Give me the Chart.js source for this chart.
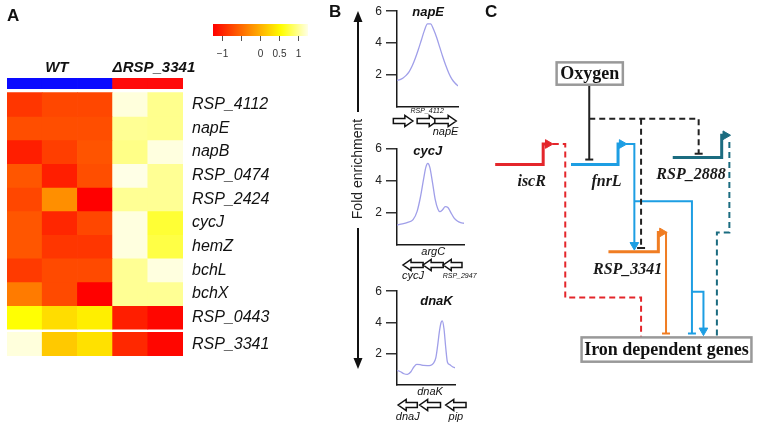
<!DOCTYPE html>
<html>
<head>
<meta charset="utf-8">
<title>Iron-dependent genes: heatmap, ChIP enrichment and network</title>
<script src="https://cdn.jsdelivr.net/npm/chart.js@4.4.1/dist/chart.umd.min.js"></script>
<style>
  html, body { margin: 0; padding: 0; background: #fff; }
  #fig { position: relative; width: 768px; height: 426px; overflow: hidden; }
  #fig canvas { position: absolute; }
</style>
</head>
<body>
<div id="fig">
  <canvas id="heatmap" width="300" height="400" style="left:0px;top:0px"></canvas>
  <canvas id="colorKey" width="120" height="56" style="left:200px;top:10px"></canvas>
  <canvas id="chipNapE" width="160" height="145" style="left:320px;top:0px"></canvas>
  <canvas id="chipCycJ" width="160" height="426" style="left:320px;top:0px"></canvas>
  <canvas id="chipDnaK" width="160" height="146" style="left:320px;top:280px"></canvas>
  <canvas id="network" width="298" height="426" style="left:470px;top:0px"></canvas>
</div>
<script>
// ─── Panel A: row z-scores ──────────────────────────────────────────────────────
const genes = ['RSP_4112', 'napE', 'napB', 'RSP_0474', 'RSP_2424', 'cycJ', 'hemZ', 'bchL', 'bchX', 'RSP_0443', 'RSP_3341'];
const sampleNames = ['WT 1', 'WT 2', 'WT 3', 'ΔRSP_3341 1', 'ΔRSP_3341 2'];
const sampleGroup = ['WT', 'WT', 'WT', 'ΔRSP_3341', 'ΔRSP_3341'];
const groupNames  = ['WT', 'ΔRSP_3341'];
const wt1 = [-0.87, -0.70, -1.04, -0.64, -0.75, -0.64, -0.64, -0.84, -0.38,  0.56,  1.22];
const wt2 = [-0.75, -0.70, -0.81, -1.04, -0.24, -0.98, -0.87, -0.73, -0.73,  0.31,  0.17];
const wt3 = [-0.75, -0.70, -0.66, -0.70, -1.25, -0.75, -0.87, -0.73, -1.24,  0.44,  0.34];
const ko1 = [ 1.22,  1.00,  0.96,  1.25,  1.00,  1.23,  1.23,  1.00,  1.00, -1.04, -0.97];
const ko2 = [ 0.98,  0.98,  1.23,  1.00,  1.00,  0.71,  0.76,  1.23,  1.00, -1.21, -1.21];
const keyTicks      = [-1, -0.5, 0, 0.5, 1];
const keyTickLabels = ['−1', '', '0', '0.5', '1'];

// ─── Panel B: ChIP enrichment profiles (window position 0–100) ──────────────────
const foldTicks = [2, 4, 6];
const napEPos  = [0, 5, 10, 15, 20, 25, 30, 35, 40, 45, 50, 55, 60, 65, 70, 75, 80, 85, 90, 95, 100];
const napEFold = [1.67, 1.72, 1.82, 1.98, 2.22, 2.58, 3.05, 3.6, 4.2, 4.8, 5.2, 5.2, 4.85, 4.35, 3.75, 3.15, 2.6, 2.12, 1.75, 1.5, 1.32];
const cycJPos  = [0, 8, 16, 24, 30, 35, 40, 43, 46, 49, 53, 57, 61, 64, 68, 72, 76, 80, 85, 90, 95, 100];
const cycJFold = [1.25, 1.32, 1.42, 1.58, 2.1, 3.0, 4.2, 4.85, 5.1, 4.85, 3.9, 2.85, 2.25, 2.08, 2.2, 2.4, 2.35, 2.05, 1.7, 1.5, 1.4, 1.36];
const dnaKPos  = [0, 6, 12, 18, 24, 29, 34, 40, 46, 52, 58, 63, 67, 70, 73, 76, 78, 81, 84, 87, 91, 95, 100];
const dnaKFold = [0.94, 0.85, 0.72, 0.68, 0.85, 1.15, 1.32, 1.3, 1.25, 1.24, 1.26, 1.4, 1.75, 2.5, 3.4, 4.0, 4.1, 3.6, 2.4, 1.45, 1.3, 1.18, 1.1];
// genes under each profile: tail -> tip (tip < tail means reverse strand)
const napEGenes = ['', 'RSP_4112', 'napE'];
const napEFrom  = [-6, 33, 62];
const napETo    = [26, 66, 97];
const cycJGenes = ['cycJ', 'argC', 'RSP_2947'];
const cycJFrom  = [39, 69, 97];
const cycJTo    = [9, 39, 69];
const dnaKGenes = ['dnaJ', 'dnaK', 'pip'];
const dnaKFrom  = [35, 75, 119];
const dnaKTo    = [2, 39, 84];

// ─── Panel C: regulatory network (diagram units) ────────────────────────────────
const netSources = ['Oxygen', 'iscR', 'fnrL', 'RSP_2888', 'RSP_3341'];
const netColours = ['#222222', '#e4262b', '#1d9ee3', '#1b6c80', '#f07d23'];
const netGenes   = ['iscR', 'fnrL', 'RSP_2888', 'RSP_3341'];
const netGenePaths = [
  [[20, 163], [70, 163], [70, 142], [75, 142]],
  [[99, 163], [148, 163], [148, 142], [152, 142]],
  [[205, 156], [256, 156], [256, 133], [260, 133]],
  [[138, 253], [190, 253], [190, 233], [194, 233]]
];
const netGeneLabelAt = [[58, 181], [136, 181], [224, 174], [158, 272]];
const netEdges = [
  { source: 'Oxygen',   effect: 'repress',  direct: true,  path: [[118, 81], [118, 158]] },
  { source: 'Oxygen',   effect: 'repress',  direct: false, path: [[118, 116], [232, 116], [232, 152]] },
  { source: 'Oxygen',   effect: 'repress',  direct: false, path: [[172, 116], [172, 249]] },
  { source: 'iscR',     effect: 'regulate', direct: false, path: [[80, 142], [93, 142], [93, 300], [172, 300], [172, 341]] },
  { source: 'fnrL',     effect: 'activate', direct: true,  path: [[156, 142], [165, 142], [165, 246]] },
  { source: 'fnrL',     effect: 'repress',  direct: true,  path: [[165, 201], [225, 201], [225, 337]] },
  { source: 'fnrL',     effect: 'activate', direct: true,  path: [[225, 294], [237, 294], [237, 334]] },
  { source: 'RSP_3341', effect: 'repress',  direct: true,  path: [[198, 233], [198, 337]] },
  { source: 'RSP_2888', effect: 'regulate', direct: false, path: [[264, 140], [264, 233], [251, 233], [251, 341]] }
];
const netBoxes   = ['Oxygen', 'Iron dependent genes'];
const netBoxArea = [[84, 58, 153, 81], [110, 341, 287, 366]];

// ─── Defaults ───────────────────────────────────────────────────────────────────
const SANS  = '"Liberation Sans", Arial, Helvetica, sans-serif';
const SERIF = '"Liberation Serif", "Times New Roman", serif';
Chart.defaults.animation = false;
Chart.defaults.responsive = false;
Chart.defaults.events = [];
Chart.defaults.font.family = SANS;
Chart.defaults.color = '#222';
Chart.defaults.plugins.legend.display = false;
Chart.defaults.plugins.tooltip.enabled = false;

// heat colours: red -> orange -> yellow -> pale
const zLim = 1.25;
function heatColour(v) {
  const t = Math.min(1, Math.max(0, (v + zLim) / (2 * zLim)));
  if (t < 0.72) return `rgb(255,${Math.round(255 * t / 0.72)},0)`;
  return `rgb(255,255,${Math.round(230 * (t - 0.72) / 0.28)})`;
}

// ─── Heatmap ────────────────────────────────────────────────────────────────────
const columns = [wt1, wt2, wt3, ko1, ko2];
const headerBand = [-0.62, -0.17];
const rowTop = genes.map((g, i) => i + (i > 9 ? 0.13 : 0)); // small gap before RSP_3341

const heatDatasets = [{
  label: 'group',
  data: sampleNames.map(() => headerBand),
  backgroundColor: sampleGroup.map(g => g === 'WT' ? '#0a0aff' : '#ff0a0a')
}].concat(genes.map((g, i) => ({
  label: g,
  data: columns.map(() => [rowTop[i], rowTop[i] + 1]),
  backgroundColor: columns.map(col => heatColour(col[i]))
})));

const heatHeader = {
  id: 'heatHeader',
  afterDraw(chart) {
    const { ctx, chartArea, scales: { x } } = chart;
    const colW = x.width / sampleNames.length;
    ctx.save();
    ctx.fillStyle = '#111';
    ctx.textBaseline = 'alphabetic';
    ctx.font = `bold italic 15px ${SANS}`;
    groupNames.forEach(name => {
      const cols = sampleGroup.map((s, i) => s === name ? i : -1).filter(i => i >= 0);
      const left  = x.getPixelForValue(cols[0]) - colW / 2;
      const right = x.getPixelForValue(cols[cols.length - 1]) + colW / 2;
      // wide names start at the group edge, short ones are centred
      if (ctx.measureText(name).width > right - left) {
        ctx.textAlign = 'left';
        ctx.fillText(name, left, chartArea.top - 6);
      } else {
        ctx.textAlign = 'center';
        ctx.fillText(name, (left + right) / 2 - 3, chartArea.top - 6);
      }
    });
    ctx.textAlign = 'left';
    ctx.font = `bold 17px ${SANS}`;
    ctx.fillText('A', 7, 21);
    ctx.restore();
  }
};

new Chart(document.getElementById('heatmap'), {
  type: 'bar',
  data: { labels: sampleNames, datasets: heatDatasets },
  options: {
    layout: { padding: { top: 78, left: 7, bottom: 44, right: 7 } },
    datasets: { bar: { grouped: false, barPercentage: 1, categoryPercentage: 1, borderWidth: 0 } },
    scales: {
      x: { display: false },
      y: {
        type: 'linear', position: 'right', reverse: true,
        min: headerBand[0], max: rowTop[rowTop.length - 1] + 1,
        grid: { display: false }, border: { display: false },
        afterBuildTicks: s => { s.ticks = rowTop.map(t => ({ value: t + 0.5 })); },
        afterFit: s => { s.width = 110; },
        ticks: { autoSkip: false, padding: 1, color: '#111', font: { size: 16, style: 'italic' },
                 callback: (v, i) => genes[i] }
      }
    }
  },
  plugins: [heatHeader]
});

// ─── Colour key ─────────────────────────────────────────────────────────────────
function keyGradient(c) {
  const a = c.chart.chartArea;
  if (!a) return '#ffaa00';
  const g = c.chart.ctx.createLinearGradient(a.left, 0, a.right, 0);
  for (let k = 0; k <= 24; k++) g.addColorStop(k / 24, heatColour(-zLim + 2 * zLim * k / 24));
  return g;
}

new Chart(document.getElementById('colorKey'), {
  type: 'bar',
  data: { labels: ['z'], datasets: [{ data: [[-zLim, zLim]], backgroundColor: keyGradient,
                                      barPercentage: 1, categoryPercentage: 1, borderWidth: 0 }] },
  options: {
    indexAxis: 'y',
    layout: { padding: { top: 14, left: 13, right: 12, bottom: 0 } },
    scales: {
      y: { display: false },
      x: {
        type: 'linear', min: -zLim, max: zLim,
        border: { display: false },
        grid: { drawOnChartArea: false, drawTicks: true, tickLength: 5, color: '#555' },
        afterBuildTicks: s => { s.ticks = keyTicks.map(v => ({ value: v })); },
        afterFit: s => { s.height = 30; },
        ticks: { padding: 7, color: '#333', font: { size: 10 }, callback: (v, i) => keyTickLabels[i] }
      }
    }
  }
});

// ─── ChIP profiles ──────────────────────────────────────────────────────────────
function blockArrow(ctx, x0, x1, y) {
  const dir = Math.sign(x1 - x0);
  const head = Math.min(8, Math.abs(x1 - x0) * 0.45);
  const xn = x1 - dir * head;
  ctx.beginPath();
  ctx.moveTo(x0, y - 2.5); ctx.lineTo(xn, y - 2.5); ctx.lineTo(xn, y - 5.5);
  ctx.lineTo(x1, y);
  ctx.lineTo(xn, y + 5.5); ctx.lineTo(xn, y + 2.5); ctx.lineTo(x0, y + 2.5);
  ctx.closePath();
  ctx.fillStyle = '#fff'; ctx.fill();
  ctx.strokeStyle = '#111'; ctx.lineWidth = 1.5; ctx.stroke();
}

function trackPlugin(t) {
  return {
    id: 'track',
    afterDraw(chart) {
      const { ctx, chartArea: a, scales: { x } } = chart;
      ctx.save();
      ctx.textAlign = 'center'; ctx.textBaseline = 'middle';
      ctx.fillStyle = '#111';
      ctx.font = `bold italic 13px ${SANS}`;
      ctx.fillText(t.title, x.getPixelForValue(t.titleAt), a.top + t.titleDy);
      t.genes.forEach((g, i) => blockArrow(ctx, x.getPixelForValue(t.from[i]), x.getPixelForValue(t.to[i]), a.bottom + t.rows[1]));
      ctx.fillStyle = '#111';
      t.labels.forEach(l => {
        const i = t.genes.indexOf(l.gene);
        const xc = (x.getPixelForValue(t.from[i]) + x.getPixelForValue(t.to[i])) / 2 + (l.dx || 0);
        ctx.font = `italic ${l.size}px ${SANS}`;
        ctx.fillText(l.gene, xc, a.bottom + (l.side === 'above' ? t.rows[0] : t.rows[2]));
      });
      ctx.restore();
    }
  };
}

// long "Fold enrichment" arrow and panel letter, drawn on the middle profile
const foldAxis = {
  id: 'foldAxis',
  afterDraw(chart) {
    const { ctx, chartArea: a } = chart;
    const ax = a.left - 39;
    ctx.save();
    ctx.strokeStyle = '#111'; ctx.fillStyle = '#111'; ctx.lineWidth = 2;
    ctx.beginPath(); ctx.moveTo(ax, 112); ctx.lineTo(ax, 20); ctx.stroke();
    ctx.beginPath(); ctx.moveTo(ax, 228); ctx.lineTo(ax, 360); ctx.stroke();
    ctx.beginPath(); ctx.moveTo(ax, 11); ctx.lineTo(ax - 4.5, 22); ctx.lineTo(ax + 4.5, 22); ctx.closePath(); ctx.fill();
    ctx.beginPath(); ctx.moveTo(ax, 369); ctx.lineTo(ax - 4.5, 358); ctx.lineTo(ax + 4.5, 358); ctx.closePath(); ctx.fill();
    ctx.translate(ax, 169); ctx.rotate(-Math.PI / 2);
    ctx.textAlign = 'center'; ctx.textBaseline = 'middle';
    ctx.font = `14px ${SANS}`; ctx.fillStyle = '#222';
    ctx.fillText('Fold enrichment', 0, 0);
    ctx.setTransform(1, 0, 0, 1, 0, 0);
    ctx.textAlign = 'left'; ctx.textBaseline = 'alphabetic';
    ctx.font = `bold 17px ${SANS}`; ctx.fillStyle = '#111';
    ctx.fillText('B', 9, 17);
    ctx.restore();
  }
};

function chipChart(id, pos, fold, pad, track, extra) {
  return new Chart(document.getElementById(id), {
    type: 'line',
    data: { datasets: [{ data: pos.map((p, i) => ({ x: p, y: fold[i] })), borderColor: '#a09fe9',
                         borderWidth: 1.3, pointRadius: 0, cubicInterpolationMode: 'monotone', fill: false }] },
    options: {
      layout: { padding: pad },
      scales: {
        x: { type: 'linear', min: 0, max: 100, grid: { display: false }, ticks: { display: false },
             border: { color: '#1a1a1a', width: 1.5 }, afterFit: s => { s.height = 0; } },
        y: { type: 'linear', min: 0, max: 6,
             grid: { drawOnChartArea: false, tickLength: 11, color: '#333', lineWidth: 1.5 },
             border: { color: '#1a1a1a', width: 1.5 },
             ticks: { padding: 4, color: '#222', font: { size: 12 } },
             afterBuildTicks: s => { s.ticks = foldTicks.map(v => ({ value: v })); },
             afterFit: s => { s.width = 30; } }
      }
    },
    plugins: [trackPlugin(track)].concat(extra || [])
  });
}

chipChart('chipNapE', napEPos, napEFold, { top: 10, left: 47, right: 22, bottom: 38 }, {
  title: 'napE', titleAt: 51, titleDy: 1, rows: [4, 14, 25],
  genes: napEGenes, from: napEFrom, to: napETo,
  labels: [{ gene: 'RSP_4112', side: 'above', size: 7 }, { gene: 'napE', side: 'below', size: 11 }]
});
chipChart('chipCycJ', cycJPos, cycJFold, { top: 149, left: 47, right: 16, bottom: 181 }, {
  title: 'cycJ', titleAt: 46, titleDy: 2, rows: [7, 20, 31],
  genes: cycJGenes, from: cycJFrom, to: cycJTo,
  labels: [{ gene: 'argC', side: 'above', size: 11 }, { gene: 'cycJ', side: 'below', size: 11 },
           { gene: 'RSP_2947', side: 'below', size: 7, dx: 7 }]
}, [foldAxis]);
chipChart('chipDnaK', dnaKPos, dnaKFold, { top: 9, left: 47, right: 25, bottom: 41 }, {
  title: 'dnaK', titleAt: 68, titleDy: 10, rows: [7, 20, 32],
  genes: dnaKGenes, from: dnaKFrom, to: dnaKTo,
  labels: [{ gene: 'dnaK', side: 'above', size: 11 }, { gene: 'dnaJ', side: 'below', size: 11 },
           { gene: 'pip', side: 'below', size: 11 }]
});

// ─── Network ────────────────────────────────────────────────────────────────────
const colourOf = s => netColours[netSources.indexOf(s)];

function endAngle(path) {
  const [x1, y1] = path[path.length - 1], [x0, y0] = path[path.length - 2];
  if (x1 === x0) return y1 > y0 ? 180 : 0;
  return x1 > x0 ? 90 : 270;
}

const geneSets = netGenes.map((g, i) => {
  const p = netGenePaths[i];
  return {
    data: p.map(([x, y]) => ({ x, y })),
    showLine: true, borderColor: colourOf(g), borderWidth: 3,
    pointRadius: p.map((q, k) => k === p.length - 1 ? 5 : 0),
    pointStyle: 'triangle', pointRotation: endAngle(p),
    pointBackgroundColor: colourOf(g), pointBorderColor: colourOf(g), pointBorderWidth: 1
  };
});

const edgeSets = netEdges.map(e => {
  const p = e.path, c = colourOf(e.source);
  const marker = e.effect === 'activate' ? 'triangle' : e.effect === 'repress' ? 'line' : null;
  const ang = endAngle(p);
  return {
    data: p.map(([x, y]) => ({ x, y })),
    showLine: true, borderColor: c, borderWidth: 2, borderDash: e.direct ? [] : [6, 4],
    pointRadius: p.map((q, k) => (k === p.length - 1 && marker) ? (marker === 'line' ? 4 : 5) : 0),
    pointStyle: marker || 'circle',
    pointRotation: marker === 'line' ? (ang % 180 === 0 ? 0 : 90) : ang,
    pointBackgroundColor: c, pointBorderColor: c, pointBorderWidth: marker === 'line' ? 2 : 1
  };
});

const netText = {
  id: 'netText',
  afterDatasetsDraw(chart) {
    const { ctx, scales: { x, y } } = chart;
    ctx.save();
    ctx.textAlign = 'center'; ctx.textBaseline = 'middle';
    netBoxes.forEach((b, i) => {
      const [x0, y0, x1, y1] = netBoxArea[i];
      const l = x.getPixelForValue(x0), r = x.getPixelForValue(x1);
      const t = y.getPixelForValue(y0), btm = y.getPixelForValue(y1);
      ctx.fillStyle = '#fff'; ctx.fillRect(l, t, r - l, btm - t);
      ctx.strokeStyle = '#999'; ctx.lineWidth = 2.5; ctx.strokeRect(l, t, r - l, btm - t);
      ctx.fillStyle = '#111'; ctx.font = `bold 18px ${SERIF}`;
      ctx.fillText(b, (l + r) / 2, (t + btm) / 2 + 1);
    });
    ctx.font = `bold italic 16px ${SERIF}`;
    ctx.fillStyle = '#1a1a1a';
    netGenes.forEach((g, i) => {
      const [lx, ly] = netGeneLabelAt[i];
      ctx.fillText(g, x.getPixelForValue(lx), y.getPixelForValue(ly));
    });
    ctx.textAlign = 'left'; ctx.textBaseline = 'alphabetic';
    ctx.font = `bold 17px ${SANS}`; ctx.fillStyle = '#111';
    ctx.fillText('C', 15, 17);
    ctx.restore();
  }
};

new Chart(document.getElementById('network'), {
  type: 'scatter',
  data: { datasets: edgeSets.concat(geneSets) },
  options: {
    layout: { padding: 0 },
    datasets: { scatter: { clip: false, tension: 0 } },
    scales: {
      x: { type: 'linear', min: 0, max: 298, display: false },
      y: { type: 'linear', min: 0, max: 426, reverse: true, display: false }
    }
  },
  plugins: [netText]
});
</script>
</body>
</html>
